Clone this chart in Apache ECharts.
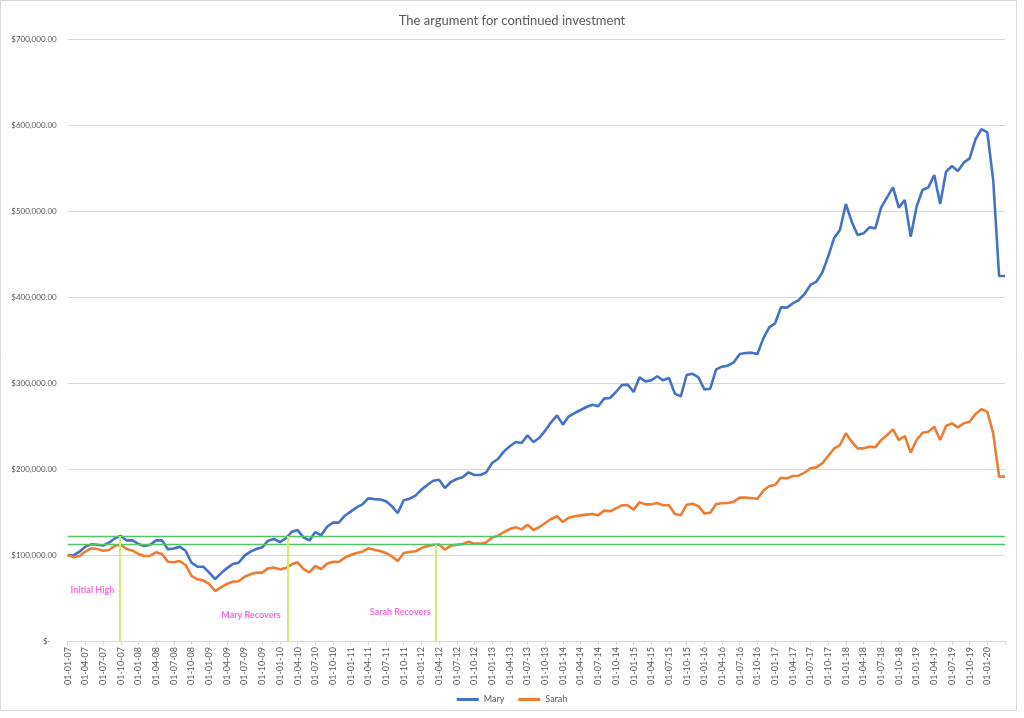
<!DOCTYPE html>
<html>
<head>
<meta charset="utf-8">
<script src="https://cdn.jsdelivr.net/npm/echarts@6.0.0/dist/echarts.min.js"></script>
<style>html,body{margin:0;padding:0;background:#fff;}#chart{width:1024px;height:718px;}</style>
</head>
<body>
<div id="chart"></div>
<script>
const categories = [
'01-01-07','01-02-07','01-03-07','01-04-07','01-05-07','01-06-07','01-07-07','01-08-07','01-09-07','01-10-07','01-11-07','01-12-07',
'01-01-08','01-02-08','01-03-08','01-04-08','01-05-08','01-06-08','01-07-08','01-08-08','01-09-08','01-10-08','01-11-08','01-12-08',
'01-01-09','01-02-09','01-03-09','01-04-09','01-05-09','01-06-09','01-07-09','01-08-09','01-09-09','01-10-09','01-11-09','01-12-09',
'01-01-10','01-02-10','01-03-10','01-04-10','01-05-10','01-06-10','01-07-10','01-08-10','01-09-10','01-10-10','01-11-10','01-12-10',
'01-01-11','01-02-11','01-03-11','01-04-11','01-05-11','01-06-11','01-07-11','01-08-11','01-09-11','01-10-11','01-11-11','01-12-11',
'01-01-12','01-02-12','01-03-12','01-04-12','01-05-12','01-06-12','01-07-12','01-08-12','01-09-12','01-10-12','01-11-12','01-12-12',
'01-01-13','01-02-13','01-03-13','01-04-13','01-05-13','01-06-13','01-07-13','01-08-13','01-09-13','01-10-13','01-11-13','01-12-13',
'01-01-14','01-02-14','01-03-14','01-04-14','01-05-14','01-06-14','01-07-14','01-08-14','01-09-14','01-10-14','01-11-14','01-12-14',
'01-01-15','01-02-15','01-03-15','01-04-15','01-05-15','01-06-15','01-07-15','01-08-15','01-09-15','01-10-15','01-11-15','01-12-15',
'01-01-16','01-02-16','01-03-16','01-04-16','01-05-16','01-06-16','01-07-16','01-08-16','01-09-16','01-10-16','01-11-16','01-12-16',
'01-01-17','01-02-17','01-03-17','01-04-17','01-05-17','01-06-17','01-07-17','01-08-17','01-09-17','01-10-17','01-11-17','01-12-17',
'01-01-18','01-02-18','01-03-18','01-04-18','01-05-18','01-06-18','01-07-18','01-08-18','01-09-18','01-10-18','01-11-18','01-12-18',
'01-01-19','01-02-19','01-03-19','01-04-19','01-05-19','01-06-19','01-07-19','01-08-19','01-09-19','01-10-19','01-11-19','01-12-19',
'01-01-20','01-02-20','01-03-20','01-04-20'
];
const lastLabelIndex = 156;

const mary = [
100000,99500,103900,109700,112400,112000,111000,114300,119400,122000,117000,117000,
112800,110500,112000,117000,117000,106600,107500,109700,105000,91000,86400,86400,
79500,72100,78700,84500,89500,91000,99200,103900,107000,109000,116600,118600,
115000,119400,127000,129000,120500,117000,126700,122900,132900,137600,137600,145700,
150400,155400,158900,166000,165000,164500,162400,156600,148800,163600,165500,169000,
176000,181400,186400,187600,177900,184900,188400,190300,196100,193000,193000,196100,
207000,211600,220500,226400,231400,230200,239100,231400,236000,244600,254300,262400,
251600,261200,265100,268600,272100,274800,272900,281800,282600,289500,297700,298100,
289500,306600,301900,303100,307800,303100,305800,287600,284500,309300,310700,306500,
292600,293400,315900,319000,320200,324000,333700,334900,335300,333700,351900,364700,
369400,388000,387600,392600,396500,403500,414000,417800,428300,446900,468200,477900,
508100,487600,472100,474000,481000,479800,504300,515900,527500,503900,512800,470200,
505000,524400,527500,541900,508100,545700,552300,546500,556200,561200,583300,595300,
591500,536000,424400,424400
];

const sarah = [
100000,97500,98800,103900,107800,107000,105000,105800,110800,112000,107000,105000,
101200,98800,99200,103100,101200,92200,91500,93000,88400,75600,71700,70500,
66300,58100,62400,66300,69000,69400,74800,77500,79500,79500,84500,85300,
83300,84800,89200,91500,83700,79800,87200,83700,89900,92200,91900,96900,
100000,102300,103900,107800,106200,104700,102300,98400,93000,102300,103500,104300,
108100,110500,111800,112300,106200,110900,112000,112800,115500,113200,113200,114700,
120200,122500,126700,130200,132200,129800,135300,129100,132200,137200,141900,145000,
138400,143400,145000,146100,146900,147700,146100,151600,150800,154300,157800,157800,
152700,161200,158900,158900,160500,157800,157800,147700,146100,158500,159500,156800,
148400,149200,159300,160100,160500,162000,166700,166700,166300,165100,174800,180200,
181400,189900,189100,191900,192200,195700,200800,201900,206600,215100,223600,227900,
241500,231800,224000,224000,226000,225200,233700,239500,246100,233700,238400,219000,
233700,242200,243400,249200,233700,250000,253100,248400,253100,255000,264000,269400,
266700,241500,191100,191100
];

const yTicks = [0,100000,200000,300000,400000,500000,600000,700000];

// Events: month position (fractional, where the value crosses the initial high) and label
const highIndex = 9;
const maryHigh = mary[highIndex];
const sarahHigh = sarah[highIndex];
const events = [
  { name: 'Initial High', at: 8.85, level: maryHigh, labelAt: 4.2, labelValue: 59000 },
  { name: 'Mary Recovers', at: 37.35, level: maryHigh, labelAt: 31.1, labelValue: 30500 },
  { name: 'Sarah Recovers', at: 62.45, level: sarahHigh, labelAt: 56.4, labelValue: 33200 }
];

const FONT = 'Lato, "Open Sans", sans-serif';
const TXT = '#595959';
const GRID = '#d9d9d9';

function money(v) {
  if (v === 0) return '$-   ';
  return '$' + v.toLocaleString('en-US', {minimumFractionDigits: 2, maximumFractionDigits: 2});
}

const chart = echarts.init(document.getElementById('chart'), null, {renderer: 'canvas'});

const vLines = events.map(e => [
  {coord: [e.at, e.level]},
  {coord: [e.at, 0]}
]);

chart.setOption({
  animation: false,
  backgroundColor: '#ffffff',
  graphic: [{
    type: 'rect', shape: {x: 0.5, y: 0.5, width: 1016, height: 710},
    style: {fill: 'none', stroke: GRID, lineWidth: 1}, silent: true
  }],
  title: {
    text: 'The argument for continued investment',
    left: 'center', top: 9,
    textStyle: {fontFamily: FONT, fontSize: 13, fontWeight: 'normal', color: TXT}
  },
  legend: {
    data: ['Mary', 'Sarah'],
    top: 690, left: 'center',
    icon: 'rect', itemWidth: 22, itemHeight: 3, itemGap: 14,
    textStyle: {fontFamily: FONT, fontSize: 9, color: TXT}
  },
  grid: {left: 67.7, right: 19, top: 39, bottom: 77, containLabel: false},
  xAxis: {
    type: 'value', min: 0, max: categories.length - 1, interval: 3,
    axisLine: {show: true, lineStyle: {color: GRID}},
    axisTick: {show: true, length: 4, lineStyle: {color: GRID}},
    splitLine: {show: false},
    axisLabel: {
      rotate: 90, fontFamily: FONT, fontSize: 9, color: TXT, margin: 6,
      formatter: v => (v <= lastLabelIndex ? categories[v] : '')
    }
  },
  yAxis: {
    type: 'value', min: yTicks[0], max: yTicks[yTicks.length - 1], interval: yTicks[1] - yTicks[0],
    axisLine: {show: false}, axisTick: {show: false},
    splitLine: {show: true, lineStyle: {color: GRID, width: 1}},
    axisLabel: {fontFamily: FONT, fontSize: 8, color: TXT, margin: 11, formatter: money}
  },
  series: [
    {
      name: 'Mary', type: 'line', showSymbol: false, symbol: 'none',
      data: mary.map((v, i) => [i, v]),
      lineStyle: {color: '#4472C4', width: 2.6}, itemStyle: {color: '#4472C4'},
      z: 3,
      markLine: {
        silent: true, symbol: 'none', animation: false,
        label: {show: false},
        data: [
          {yAxis: maryHigh, lineStyle: {color: '#55c466', width: 1.3, type: 'solid'}},
          {yAxis: sarahHigh, lineStyle: {color: '#55c466', width: 1.3, type: 'solid'}}
        ].concat(vLines.map(l => [
          Object.assign({}, l[0], {lineStyle: {color: '#d6ea70', width: 2, type: 'solid'}}),
          l[1]
        ]))
      }
    },
    {
      name: 'Sarah', type: 'line', showSymbol: false, symbol: 'none',
      data: sarah.map((v, i) => [i, v]),
      lineStyle: {color: '#ED7D31', width: 2.6}, itemStyle: {color: '#ED7D31'},
      z: 3,
      markPoint: {
        silent: true, symbol: 'rect', symbolSize: 1, animation: false,
        itemStyle: {color: 'rgba(0,0,0,0)'},
        label: {show: true, position: 'inside', fontFamily: FONT, fontSize: 9, fontWeight: 'bold', color: '#ff66dd', formatter: p => p.name},
        data: events.map(e => ({name: e.name, coord: [e.labelAt, e.labelValue]}))
      }
    }
  ]
});
</script>
</body>
</html>
